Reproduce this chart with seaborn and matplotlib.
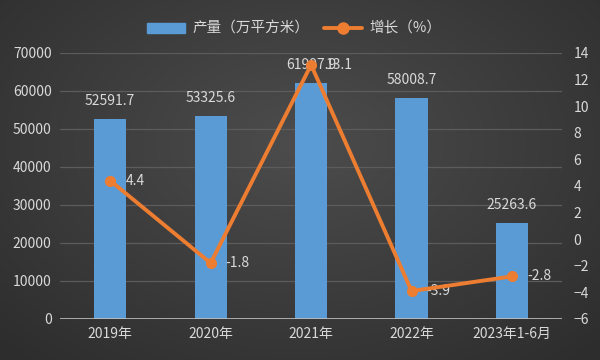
import numpy as np
import pandas as pd
import seaborn as sns
import matplotlib.pyplot as plt
from matplotlib.patches import Patch
from matplotlib.lines import Line2D

categories = ['2019年', '2020年', '2021年', '2022年', '2023年1-6月']
output = [52591.7, 53325.6, 61997.9, 58008.7, 25263.6]
growth = [4.4, -1.8, 13.1, -3.9, -2.8]

df = pd.DataFrame({'year': categories, 'output': output, 'growth': growth})

sns.set_style('dark')
plt.rcParams['font.family'] = ['Noto Sans CJK SC', 'DejaVu Sans']

txt = '#d9d9d9'
bar_c = '#5b9bd5'
line_c = '#ed7d31'
fig = plt.figure(figsize=(6, 3.6), dpi=100)

# dark radial background, lighter in the middle
bg = fig.add_axes([0, 0, 1, 1], zorder=-10)
yy, xx = np.mgrid[-1:1:200j, -1:1:300j]
r = np.clip(np.sqrt(xx**2 + ((yy + 0.2) * 0.9)**2) / 1.4, 0, 1)
shade = 0.30 - 0.12 * r
bg.imshow(np.dstack([shade] * 3), aspect='auto', extent=[0, 1, 0, 1])
bg.axis('off')

ax = fig.add_axes([0.1, 0.114, 0.837, 0.739])
ax.set_facecolor('none')
sns.barplot(data=df, x='year', y='output', color=bar_c, width=0.32,
            saturation=1, edgecolor='none', ax=ax, zorder=3)
ax.set_ylim(0, 70000)
ax.set_yticks(range(0, 70001, 10000))
ax.set_xlim(-0.5, 4.5)
ax.grid(axis='y', color='#5c5c5c', lw=0.9)
ax.grid(axis='x', visible=False)
for s in ax.spines.values():
    s.set_visible(False)
ax.axhline(0, color='#bfbfbf', lw=1.2, zorder=4)
ax.tick_params(colors=txt, labelsize=10, length=0, pad=6)
ax.set_xlabel('')
ax.set_ylabel('')
for i, v in enumerate(output):
    ax.text(i, v + 3000, f'{v:.1f}', ha='center', va='bottom', color=txt, fontsize=10)

ax2 = ax.twinx()
sns.lineplot(x=np.arange(len(categories)), y=growth, ax=ax2, color=line_c,
             lw=2.8, marker='o', markersize=8, markeredgewidth=0, zorder=5)
ax2.set_ylim(-6, 14)
ax2.set_yticks(range(-6, 15, 2))
for s in ax2.spines.values():
    s.set_visible(False)
ax2.tick_params(colors=txt, labelsize=10, length=0, pad=8)
ax2.grid(False)
for i, v in enumerate(growth):
    ax2.text(i + 0.15, v, f'{v}', ha='left', va='center', color=txt, fontsize=10)

handles = [Patch(color=bar_c, label='产量（万平方米）'),
           Line2D([], [], color=line_c, lw=2.8, marker='o', markersize=8, label='增长（%）')]
fig.legend(handles=handles, loc='center', bbox_to_anchor=(0.49, 0.92), ncol=2,
           frameon=False, fontsize=10.5, labelcolor=txt, handlelength=2.6,
           handletextpad=0.5, columnspacing=1.0)

fig.savefig('out.png', dpi=100)
